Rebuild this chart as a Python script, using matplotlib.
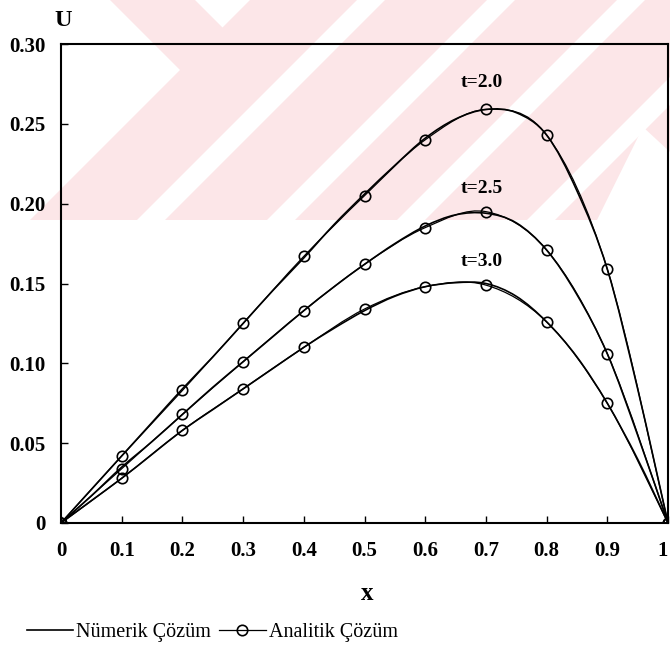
import matplotlib
matplotlib.use("Agg")
import matplotlib.pyplot as plt
from matplotlib.patches import Polygon, Rectangle, PathPatch
from matplotlib.path import Path
from matplotlib.lines import Line2D

# ---------------- data ----------------
x_analytic = [0.0, 0.1, 0.2, 0.3, 0.4, 0.5, 0.6, 0.7, 0.8, 0.9, 1.0]
u_an_t20 = [0, 0.042, 0.083, 0.125, 0.167, 0.205, 0.240, 0.259, 0.243, 0.159, 0]
u_an_t25 = [0, 0.034, 0.068, 0.101, 0.133, 0.162, 0.185, 0.195, 0.171, 0.106, 0]
u_an_t30 = [0, 0.028, 0.058, 0.084, 0.110, 0.134, 0.148, 0.149, 0.126, 0.075, 0]

x_numeric = [0.0, 0.05, 0.1, 0.15, 0.2, 0.25, 0.3, 0.35, 0.4, 0.45, 0.5,
             0.55, 0.6, 0.65, 0.7, 0.75, 0.8, 0.85, 0.9, 0.95, 1.0]
u_num_t20 = [0, 0.021, 0.042, 0.063, 0.084, 0.104, 0.125, 0.146, 0.166, 0.187, 0.206,
             0.224, 0.241, 0.253, 0.259, 0.257, 0.243, 0.208, 0.159, 0.084, 0]
u_num_t25 = [0, 0.017, 0.035, 0.051, 0.068, 0.085, 0.101, 0.117, 0.133, 0.148, 0.162,
             0.175, 0.186, 0.193, 0.194, 0.188, 0.171, 0.143, 0.106, 0.055, 0]
u_num_t30 = [0, 0.014, 0.028, 0.043, 0.058, 0.071, 0.084, 0.097, 0.110, 0.122, 0.133,
             0.142, 0.148, 0.1505, 0.150, 0.142, 0.126, 0.104, 0.075, 0.040, 0]

curve_labels = ["t=2.0", "t=2.5", "t=3.0"]
label_x = [0.693, 0.693, 0.693]
label_y = [0.2756, 0.2096, 0.1637]

xticks = [0, 0.1, 0.2, 0.3, 0.4, 0.5, 0.6, 0.7, 0.8, 0.9, 1.0]
xticklabels = ["0", "0.1", "0.2", "0.3", "0.4", "0.5", "0.6", "0.7", "0.8", "0.9", "1"]
yticks = [0, 0.05, 0.10, 0.15, 0.20, 0.25, 0.30]
yticklabels = ["0", "0.05", "0.10", "0.15", "0.20", "0.25", "0.30"]

legend_labels = ["Nümerik Çözüm", "Analitik Çözüm"]


def smooth_path(xs, ys):
    """Smoothed (Excel-style) line through the given points as Bezier segments."""
    pts = list(zip(xs, ys))
    n = len(pts)
    verts = [pts[0]]
    codes = [Path.MOVETO]
    for i in range(n - 1):
        p0 = pts[i - 1] if i > 0 else pts[i]
        p1 = pts[i]
        p2 = pts[i + 1]
        p3 = pts[i + 2] if i + 2 < n else pts[i + 1]
        c1 = (p1[0] + (p2[0] - p0[0]) / 6, p1[1] + (p2[1] - p0[1]) / 6)
        c2 = (p2[0] - (p3[0] - p1[0]) / 6, p2[1] - (p3[1] - p1[1]) / 6)
        verts += [c1, c2, p2]
        codes += [Path.CURVE4] * 3
    return Path(verts, codes)


# ---------------- figure ----------------
W, H = 670, 650
fig = plt.figure(figsize=(W / 100, H / 100), dpi=100)
fig.patch.set_facecolor("white")

# watermark background (pixel coordinates)
bg = fig.add_axes([0, 0, 1, 1], zorder=-10)
bg.set_xlim(0, W)
bg.set_ylim(H, 0)
bg.axis("off")
pink = "#fce6e8"
bg.add_patch(Rectangle((0, 0), W, 220, facecolor=pink, edgecolor="none"))
white_polys = [
    [(0, 0), (110, 0), (180, 70), (30, 220), (0, 220)],
    [(195, 0), (250, 0), (222.5, 27.5)],
]
for c1, c2 in [(357, 385), (487, 515), (617, 645), (747, 775), (877, 905)]:
    white_polys.append([(c1, 0), (c2, 0), (c2 - 220, 220), (c1 - 220, 220)])
white_polys.append([(597, 220), (643, 127), (670, 152), (670, 220)])
for p in white_polys:
    bg.add_patch(Polygon(p, closed=True, facecolor="white", edgecolor="none"))

# main axes
left, right, top, bottom = 61, 668, 44, 523
ax = fig.add_axes([left / W, 1 - bottom / H, (right - left) / W, (bottom - top) / H])
ax.set_facecolor("none")

serif = ["Liberation Serif", "DejaVu Serif"]

num_kw = dict(color="black", lw=1.2)
mk_kw = dict(marker="o", markersize=7.5, markerfacecolor="none",
             markeredgecolor="black", markeredgewidth=1.2)

for un, ua in [(u_num_t20, u_an_t20), (u_num_t25, u_an_t25), (u_num_t30, u_an_t30)]:
    ax.add_patch(PathPatch(smooth_path(x_numeric, un), fill=False,
                           edgecolor="black", lw=1.2, capstyle="round"))
    ax.add_patch(PathPatch(smooth_path(x_analytic, ua), fill=False,
                           edgecolor="black", lw=0.9, capstyle="round"))
    ax.plot(x_analytic, ua, linestyle="none", **mk_kw)

for lab, lx, ly in zip(curve_labels, label_x, label_y):
    ax.text(lx, ly, lab, ha="center", va="center", fontsize=14,
            fontweight="bold", family=serif)

ax.set_xlim(0, 1)
ax.set_ylim(0, 0.30)
ax.set_xticks(xticks)
ax.set_xticklabels(xticklabels)
ax.set_yticks(yticks)
ax.set_yticklabels(yticklabels)
ax.tick_params(axis="both", direction="in", length=5, width=1.0,
               labelsize=15, top=False, right=False)
ax.tick_params(axis="x", pad=13)
ax.tick_params(axis="y", pad=11)
for lbl in ax.get_xticklabels() + ax.get_yticklabels():
    lbl.set_fontweight("bold")
    lbl.set_family(serif)
ax.get_xticklabels()[-1].set_horizontalalignment("right")
for s in ax.spines.values():
    s.set_linewidth(1.5)
    s.set_color("black")

ax.set_xlabel("x", fontsize=18, fontweight="bold", family=serif)
ax.xaxis.set_label_coords((367 - left) / (right - left), -(593 - bottom) / (bottom - top))
ax.xaxis.label.set_va("center")

fig.text(63 / W, 1 - 20 / H, "U", ha="center", va="center", fontsize=17.5,
         fontweight="bold", family=serif)

handles = [Line2D([], [], **num_kw),
           Line2D([], [], color="black", lw=0.9, **mk_kw)]
fig.legend(handles, legend_labels, loc="center left",
           bbox_to_anchor=(27 / W, 1 - 632 / H), ncol=2, frameon=False,
           borderpad=0, borderaxespad=0, handlelength=2.3, handletextpad=0.15,
           columnspacing=0.4, prop={"family": serif, "size": 14.5})

fig.savefig("out.png", dpi=100)
